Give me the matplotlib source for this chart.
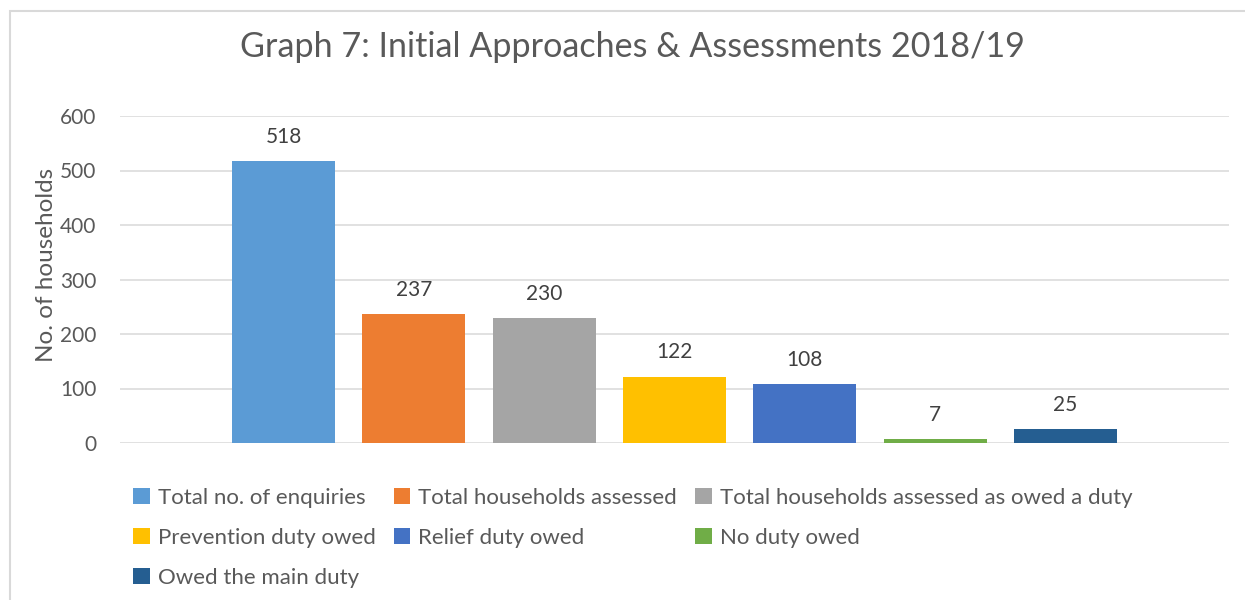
import matplotlib
matplotlib.use("Agg")
import matplotlib.pyplot as plt
from matplotlib.patches import Rectangle, Patch

plt.rcParams["font.family"] = ["Lato", "DejaVu Sans"]

# Data
categories = [
    "Total no. of enquiries",
    "Total households assessed",
    "Total households assessed as owed a duty",
    "Prevention duty owed",
    "Relief duty owed",
    "No duty owed",
    "Owed the main duty",
]
values = [518, 237, 230, 122, 108, 7, 25]
colors = ["#5B9BD5", "#ED7D31", "#A5A5A5", "#FFC000", "#4472C4", "#70AD47", "#255E91"]
y_ticks = [0, 100, 200, 300, 400, 500, 600]

W, H = 1245, 600
fig = plt.figure(figsize=(W / 100, H / 100), dpi=100)
fig.patch.set_facecolor("white")

# Outer chart border (top and left edges visible)
fig.patches.append(Rectangle((9.5 / W, -0.1), 1.2, 1 - 10.5 / H + 0.1,
                             transform=fig.transFigure, fill=False,
                             edgecolor="#D9D9D9", linewidth=1.5))

ax_l, ax_r, ax_t, ax_b = 120, 1229, 116, 443
ax = fig.add_axes([ax_l / W, 1 - ax_b / H, (ax_r - ax_l) / W, (ax_b - ax_t) / H])

x = list(range(len(values)))
bars = ax.bar(x, values, width=0.79, color=colors, zorder=3)

for xi, v in zip(x, values):
    ax.annotate(str(v), (xi, v), xytext=(0, 13), textcoords="offset points",
                ha="center", va="baseline", fontsize=15, color="#404040")

ax.set_xlim(-1.2545, 7.2545)
ax.set_ylim(0, 600)
ax.set_yticks(y_ticks)
ax.set_xticks([])
ax.grid(axis="y", color="#D9D9D9", linewidth=1.1, zorder=0)
ax.tick_params(axis="y", length=0, pad=17, labelsize=15, labelcolor="#595959")
for s in ax.spines.values():
    s.set_visible(False)

fig.text(47 / W, 1 - 265 / H, "No. of households", rotation=90, ha="center",
         va="center", fontsize=17.5, color="#595959")

fig.text(632.5 / W, 1 - 47 / H, "Graph 7: Initial Approaches & Assessments 2018/19",
         ha="center", va="center", fontsize=24.6, color="#595959")

# Legend, arranged so the rows read left to right
order = [0, 3, 6, 1, 4, 2, 5]
handles = [Patch(facecolor=colors[i], edgecolor="none") for i in order]
labels = [categories[i] for i in order]
fig.legend(handles, labels, ncol=3, loc="upper left",
           bbox_to_anchor=(133 / W, 1 - 488 / H), frameon=False,
           fontsize=16, labelcolor="#595959", handlelength=0.75, handleheight=0.75,
           handletextpad=0.36, columnspacing=0.82, labelspacing=0.9,
           borderpad=0, borderaxespad=0)

fig.savefig("out.png", dpi=100, facecolor="white")
